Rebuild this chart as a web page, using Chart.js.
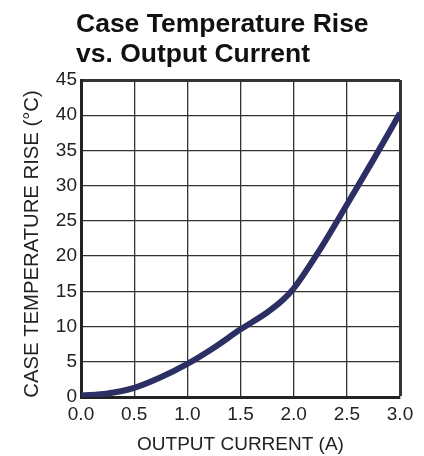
<!DOCTYPE html>
<html>
<head>
<meta charset="utf-8">
<script src="https://cdn.jsdelivr.net/npm/chart.js@4"></script>
<style>
html,body{margin:0;padding:0;background:#fff;}
#wrap{width:424px;height:456px;position:relative;}
</style>
</head>
<body>
<div id="wrap"><canvas id="c" width="424" height="456"></canvas></div>
<script>
const titleLines = ['Case Temperature Rise', 'vs. Output Current'];
const xTitle = 'OUTPUT CURRENT (A)';
const yTitle = 'CASE TEMPERATURE RISE (°C)';
const currentA = [0, 0.25, 0.5, 0.75, 1.0, 1.25, 1.5, 1.75, 1.9, 2.0, 2.25, 2.5, 2.75, 3.0];
const tempRiseC = [0.2, 0.5, 1.3, 2.8, 4.7, 7.0, 9.6, 12.0, 13.8, 15.4, 21.0, 27.3, 33.7, 40.3];
const xTicks = [0, 0.5, 1.0, 1.5, 2.0, 2.5, 3.0];
const yTicks = [0, 5, 10, 15, 20, 25, 30, 35, 40, 45];

const FONT = "'Liberation Sans', Arial, Helvetica, sans-serif";

const textPlugin = {
  id: 'extraText',
  afterDraw(chart) {
    const ctx = chart.ctx;
    ctx.save();
    ctx.fillStyle = '#111';
    ctx.font = 'bold 26.5px ' + FONT;
    ctx.textAlign = 'left';
    ctx.textBaseline = 'alphabetic';
    ctx.fillText(titleLines[0], 76, 32);
    ctx.fillText(titleLines[1], 76, 62);
    ctx.restore();
    // y axis title, rotated
    ctx.save();
    ctx.fillStyle = '#222';
    ctx.font = '20.3px ' + FONT;
    ctx.textAlign = 'center';
    ctx.textBaseline = 'middle';
    ctx.translate(32, 244);
    ctx.rotate(-Math.PI / 2);
    ctx.fillText(yTitle, 0, 0);
    ctx.restore();
  }
};

new Chart(document.getElementById('c'), {
  type: 'line',
  data: {
    datasets: [{
      data: currentA.map((x, i) => ({x: x, y: tempRiseC[i]})),
      borderColor: '#2c2f63',
      borderWidth: 6,
      pointRadius: 0,
      fill: false,
      cubicInterpolationMode: 'monotone',
      borderCapStyle: 'butt'
    }]
  },
  options: {
    responsive: false,
    animation: false,
    devicePixelRatio: 1,
    layout: {padding: {top: 80, right: 24, left: 0, bottom: 0}},
    plugins: {legend: {display: false}, tooltip: {enabled: false}, title: {display: false}},
    scales: {
      x: {
        type: 'linear',
        min: 0, max: 3,
        afterBuildTicks: s => { s.ticks = xTicks.map(v => ({value: v})); },
        afterFit: s => { s.height = 59; },
        ticks: {
          callback: v => v.toFixed(1),
          font: {family: FONT, size: 19},
          color: '#222',
          padding: 6,
          maxRotation: 0
        },
        grid: {
          color: '#333',
          lineWidth: c => (c.tick && c.tick.value === 3) ? 3 : 1.3,
          drawTicks: false
        },
        border: {color: '#222', width: 3},
        title: {display: true, text: xTitle, font: {family: FONT, size: 19}, color: '#222', padding: {top: 4, bottom: 0}}
      },
      y: {
        min: 0, max: 45,
        afterBuildTicks: s => { s.ticks = yTicks.map(v => ({value: v})); },
        afterFit: s => { s.width = 81; },
        ticks: {
          font: {family: FONT, size: 19},
          color: '#222',
          padding: 4
        },
        grid: {
          color: '#333',
          lineWidth: c => (c.tick && c.tick.value === 45) ? 3 : 1.3,
          drawTicks: false
        },
        border: {color: '#222', width: 3},
        title: {display: false}
      }
    }
  },
  plugins: [textPlugin]
});
</script>
</body>
</html>
